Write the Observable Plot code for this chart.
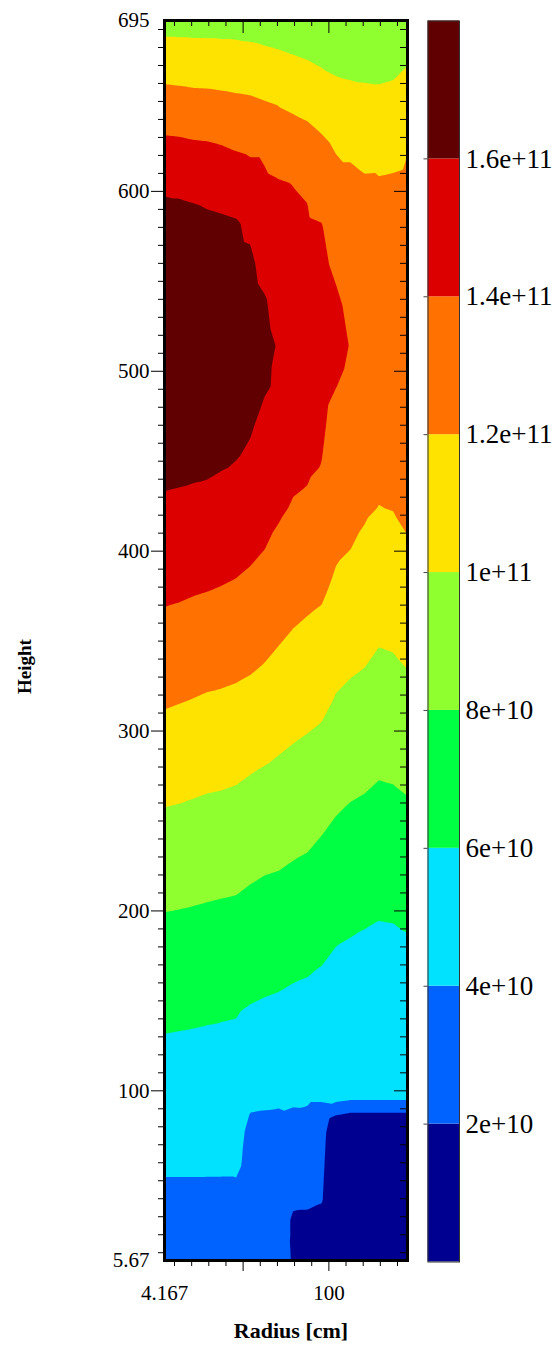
<!DOCTYPE html>
<html>
<head>
<meta charset="utf-8">
<script src="https://cdn.jsdelivr.net/npm/d3@7"></script>
<script src="https://cdn.jsdelivr.net/npm/@observablehq/plot@0.6"></script>
<style>
  html, body { margin: 0; padding: 0; background: #fff; }
  #wrap { position: relative; width: 558px; height: 1347px; overflow: hidden; }
  #main { position: absolute; left: 0; top: 0; }
  #bar { position: absolute; left: 420px; top: 0; }
  svg text { font-family: "Liberation Serif", "Times New Roman", serif !important; }
</style>
</head>
<body>
<div id="wrap"><div id="main"></div><div id="bar"></div></div>
<script>
// ---- data (density in units of 1e10) ----
const radii = [4.167, 12.5, 20.833, 29.167, 37.5, 45.833, 54.167, 62.5, 70.833, 79.167, 87.5, 95.833, 104.167, 112.5, 120.833, 129.167, 137.5, 145.833];
const heights = [5.67, 17, 28.3, 39.6, 50.9, 62.2, 73.5, 84.8, 96.1, 107.4, 130, 152.6, 175.2, 197.8, 220.4, 243, 265.6, 288.2, 310.8, 333.4, 356, 378.6, 401.2, 423.8, 446.4, 469, 491.6, 514.2, 536.8, 559.4, 582, 604.6, 627.2, 649.8, 672.4, 695];
const density = [
  [3.0,3.0,3.0,3.0,3.0,3.0,2.7,2.6,2.4,1.9,1.7,1.6,1.2,1.2,1.2,1.2,1.2,1.2],
  [3.25,3.25,3.25,3.25,3.25,3.25,2.8,2.7,2.5,1.85,1.8,1.7,1.25,1.2,1.2,1.2,1.2,1.2],
  [3.5,3.5,3.5,3.5,3.5,3.5,2.95,2.85,2.6,1.85,1.85,1.8,1.3,1.2,1.2,1.2,1.2,1.2],
  [3.75,3.75,3.75,3.75,3.75,3.75,3.1,3.0,2.8,2.2,2.15,2.05,1.35,1.2,1.2,1.2,1.2,1.2],
  [3.97,3.97,3.97,3.97,3.97,3.97,3.3,3.2,3.0,2.5,2.3,2.1,1.4,1.2,1.2,1.2,1.2,1.2],
  [4.24,4.24,4.24,4.23,4.21,4.4,3.45,3.4,3.25,2.8,2.5,2.15,1.45,1.2,1.2,1.2,1.2,1.2],
  [4.5,4.5,4.5,4.5,4.5,4.5,3.6,3.6,3.5,3.1,2.8,2.2,1.5,1.2,1.2,1.2,1.2,1.2],
  [4.8,4.78,4.77,4.75,4.74,4.65,3.9,3.85,3.8,3.6,3.4,2.5,1.57,1.15,1.15,1.15,1.15,1.15],
  [5.09,5.06,5.05,5.02,5.0,4.92,4.27,4.24,4.22,4.35,4.4,4.4,4.62,4.35,4.35,4.35,4.35,4.35],
  [5.38,5.34,5.32,5.29,5.26,5.19,4.65,4.6,4.56,4.48,4.44,4.38,4.31,4.27,4.26,4.25,4.25,4.26],
  [5.95,5.91,5.87,5.82,5.78,5.73,5.41,5.31,5.24,5.13,5.07,4.97,4.83,4.77,4.73,4.70,4.71,4.75],
  [6.61,6.56,6.51,6.45,6.38,6.33,6.15,6.02,5.93,5.79,5.70,5.56,5.35,5.26,5.20,5.15,5.17,5.23],
  [7.28,7.23,7.17,7.11,7.05,6.99,6.82,6.68,6.60,6.45,6.34,6.15,5.87,5.76,5.67,5.60,5.62,5.71],
  [7.95,7.90,7.84,7.77,7.71,7.66,7.48,7.35,7.27,7.11,6.99,6.78,6.47,6.31,6.18,6.07,6.10,6.23],
  [8.72,8.66,8.58,8.50,8.43,8.36,8.17,8.02,7.94,7.77,7.64,7.40,7.10,6.91,6.79,6.65,6.69,6.84],
  [9.49,9.43,9.34,9.25,9.19,9.11,8.91,8.76,8.64,8.46,8.31,8.03,7.72,7.52,7.40,7.23,7.28,7.44],
  [10.28,10.21,10.11,10.01,9.95,9.85,9.65,9.50,9.34,9.16,8.99,8.75,8.37,8.14,8.01,7.81,7.87,8.05],
  [11.12,11.03,10.93,10.81,10.75,10.64,10.43,10.25,10.05,9.85,9.68,9.46,9.03,8.81,8.66,8.42,8.49,8.69],
  [11.96,11.85,11.74,11.61,11.55,11.44,11.26,11.05,10.80,10.56,10.37,10.18,9.70,9.47,9.31,9.04,9.11,9.34],
  [12.76,12.66,12.54,12.42,12.34,12.24,12.08,11.85,11.55,11.26,11.07,10.89,10.36,10.12,9.95,9.65,9.73,9.98],
  [13.57,13.46,13.34,13.23,13.13,13.02,12.83,12.58,12.27,11.97,11.76,11.59,11.02,10.75,10.55,10.25,10.33,10.61],
  [14.33,14.25,14.13,14.04,13.93,13.80,13.59,13.29,12.95,12.61,12.44,12.24,11.68,11.38,11.13,10.82,10.91,11.24],
  [15.05,14.98,14.88,14.80,14.66,14.52,14.30,14.01,13.63,13.25,13.10,12.81,12.23,12.01,11.72,11.40,11.49,11.87],
  [15.76,15.71,15.63,15.56,15.39,15.23,14.95,14.52,14.21,13.88,13.76,13.39,12.66,12.42,12.18,11.97,12.04,12.25],
  [16.33,16.28,16.23,16.18,16.05,15.94,15.61,15.04,14.66,14.31,14.18,13.96,13.10,12.83,12.53,12.31,12.38,12.56],
  [16.82,16.75,16.68,16.61,16.42,16.29,16.15,15.56,15.12,14.69,14.47,14.19,13.53,13.24,12.88,12.63,12.72,12.87],
  [17.32,17.22,17.13,17.04,16.78,16.61,16.5,16.15,15.8,15.07,14.76,14.39,14.02,13.7,13.22,12.96,13.05,13.18],
  [17.54,17.44,17.34,17.24,17.03,16.82,16.8,16.5,15.85,15.18,14.95,14.6,14.4,13.95,13.44,13.29,13.39,13.49],
  [17.59,17.5,17.4,17.29,17.06,16.74,16.6,16.2,15.29,14.88,14.68,14.41,14.2,13.75,13.10,13.0,13.08,13.19],
  [17.06,16.98,16.89,16.80,16.59,16.39,16.3,15.47,14.89,14.59,14.42,14.21,13.8,12.98,12.76,12.68,12.75,12.87],
  [16.8,16.8,16.64,16.42,16.29,16.15,15.69,14.88,14.49,14.29,14.15,14.02,13.11,12.59,12.43,12.37,12.42,12.54],
  [15.61,15.51,15.38,15.23,15.11,14.97,14.70,14.29,14.1,13.97,13.85,13.16,12.50,12.21,12.09,12.1,12.15,12.22],
  [14.28,14.22,14.10,14.04,13.92,13.74,13.60,13.6,13.08,12.84,12.60,12.24,11.80,11.8,11.7,11.5,11.55,11.9],
  [12.73,12.66,12.56,12.53,12.44,12.33,12.24,12.04,11.85,11.64,11.45,11.07,10.72,10.57,10.46,10.40,10.49,10.81],
  [11.05,10.99,10.93,10.90,10.84,10.78,10.73,10.56,10.42,10.23,10.04,9.79,9.58,9.50,9.48,9.47,9.57,9.90],
  [9.3,9.3,9.3,9.3,9.3,9.3,9.2,9.1,8.95,8.8,8.6,8.4,8.3,8.3,8.4,8.5,8.6,9.0]
];
const levels = [0, 2e10, 4e10, 6e10, 8e10, 1e11, 1.2e11, 1.4e11, 1.6e11, 1.8e11];
const colors = ["#000090", "#0062ff", "#00e2ff", "#00ff42", "#8fff30", "#ffe300", "#ff7100", "#dc0000", "#600000"];
const barTicks = [2e10, 4e10, 6e10, 8e10, 1e11, 1.2e11, 1.4e11, 1.6e11];
const yLabelTicks = [100, 200, 300, 400, 500, 600];
const yEndTicks = [5.67, 695];
const yMinorTicks = [10,20,30,40,50,60,70,80,90,110,120,130,140,150,160,170,180,190,210,220,230,240,250,260,270,280,290,310,320,330,340,350,360,370,380,390,410,420,430,440,450,460,470,480,490,510,520,530,540,550,560,570,580,590,610,620,630,640,650,660,670,680,690];
const xMajorTicks = [50, 100];
const xMinorTicks = [10, 20, 30, 40, 60, 70, 80, 90, 110, 120, 130, 140];
const xLabelTicks = [4.167, 100];

// ---- build sample table ----
const samples = [];
heights.forEach((h, i) => radii.forEach((r, j) => samples.push({r, h, v: density[i][j] * 1e10})));

const font = "Liberation Serif";
const colorScale = {type: "threshold", domain: levels.slice(1, -1), range: colors};
const blank = () => "";
const plotH = 1240, plotW = 243;

const main = Plot.plot({
  width: 420, height: 1347,
  marginLeft: 164, marginRight: 13, marginTop: 20, marginBottom: 87,
  style: "font-family: 'Liberation Serif', serif; font-size: 21px; background: white; color: black; overflow: visible;",
  x: {domain: [4.167, 145.833]},
  y: {domain: [5.67, 695]},
  color: colorScale,
  marks: [
    Plot.frame({fill: colors[0], stroke: "none"}),
    Plot.contour(samples, {x: "r", y: "h", fill: "v", thresholds: levels.slice(0, -1), interpolate: "barycentric", pixelSize: 1, stroke: "none"}),
    // left axis (outward)
    Plot.axisY(yMinorTicks, {anchor: "left", tickSize: 6, tickFormat: blank, label: null}),
    Plot.axisY(yLabelTicks, {anchor: "left", tickSize: 13, tickPadding: 2, tickFormat: d => String(d), fontSize: 21, fontFamily: font, label: null}),
    Plot.axisY(yEndTicks, {anchor: "left", tickSize: 0, tickPadding: 15, tickFormat: d => String(d), fontSize: 21, fontFamily: font, label: null}),
    // right side ticks (inward)
    Plot.axisY(yMinorTicks, {anchor: "left", tickSize: 7, dx: plotW, tickFormat: blank, label: null}),
    Plot.axisY(yLabelTicks, {anchor: "left", tickSize: 13, dx: plotW, tickFormat: blank, label: null}),
    // bottom axis (outward)
    Plot.axisX(xMinorTicks, {anchor: "bottom", tickSize: 6, tickFormat: blank, label: null}),
    Plot.axisX(xMajorTicks, {anchor: "bottom", tickSize: 11, tickFormat: blank, label: null}),
    Plot.axisX(xLabelTicks, {anchor: "bottom", tickSize: 0, tickPadding: 25, tickFormat: d => String(d), fontSize: 21, fontFamily: font, label: null}),
    // top ticks (inward)
    Plot.axisX(xMinorTicks, {anchor: "bottom", tickSize: 6, dy: -plotH, tickFormat: blank, label: null}),
    Plot.axisX(xMajorTicks, {anchor: "bottom", tickSize: 13, dy: -plotH, tickFormat: blank, label: null}),
    Plot.frame({stroke: "black", strokeWidth: 3}),
    Plot.text(["Radius [cm]"], {text: d => d, frameAnchor: "bottom", textAnchor: "middle", dy: 77, dx: 5, fontWeight: "bold", fontSize: 22, fontFamily: font}),
    Plot.text(["Height"], {text: d => d, frameAnchor: "left", textAnchor: "middle", lineAnchor: "middle", dx: -140, dy: 26, rotate: -90, fontWeight: "bold", fontSize: 19, fontFamily: font})
  ]
});
document.getElementById("main").append(main);

const bands = levels.slice(0, -1).map((lo, i) => ({lo, hi: levels[i + 1]}));
const bar = Plot.plot({
  width: 138, height: 1347,
  marginLeft: 7.5, marginRight: 99, marginTop: 20.5, marginBottom: 85.5,
  style: "font-family: 'Liberation Serif', serif; font-size: 27px; background: transparent; color: black; overflow: visible;",
  y: {domain: [0, 1.8e11]},
  color: colorScale,
  marks: [
    Plot.rect(bands, {y1: "lo", y2: "hi", fill: "lo"}),
    Plot.frame({stroke: "#333", strokeWidth: 1}),
    Plot.axisY(barTicks, {anchor: "left", tickSize: 4, tickFormat: blank, label: null, stroke: "#444"}),
    Plot.axisY(barTicks, {anchor: "right", tickSize: 0, tickPadding: 6, tickFormat: d3.format("~e"), fontSize: 27, fontFamily: font, label: null})
  ]
});
document.getElementById("bar").append(bar);
</script>
</body>
</html>
